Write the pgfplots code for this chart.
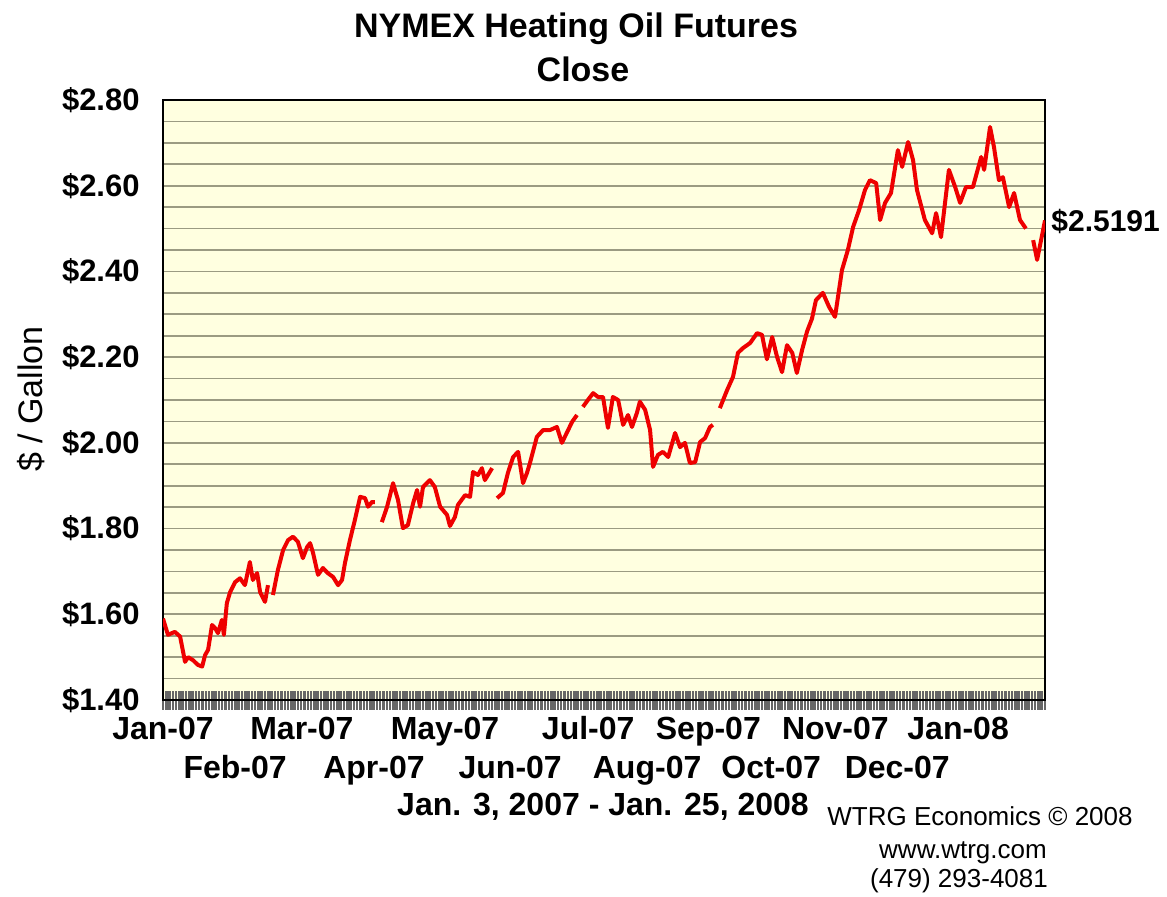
\documentclass[border=0pt]{standalone}
\usepackage{fontspec}
\setmainfont{Liberation Sans}
\usepackage{pgfplots}
\usepackage{pgfplotstable}
\pgfplotsset{compat=1.18}
\definecolor{bgyellow}{RGB}{255,255,224}
\definecolor{gridc}{RGB}{155,155,130}
\definecolor{linered}{RGB}{238,0,0}
\pgfplotstableread{
idx close
0 1.590
1.5 1.552
3.6 1.559
5.2 1.548
6.7 1.489
7.6 1.500
9.1 1.493
10.6 1.482
11.9 1.478
12.8 1.505
13.7 1.517
14.9 1.575
15.8 1.568
16.7 1.556
17.9 1.587
18.5 1.552
19.4 1.626
20.4 1.652
21.9 1.675
23.4 1.684
24.9 1.668
26.4 1.722
27.3 1.680
28.6 1.696
29.5 1.652
31.0 1.629
31.9 1.668
32.6 nan
33.4 1.645
34.9 1.703
36.5 1.750
38.0 1.773
39.5 1.781
41.0 1.769
42.5 1.731
43.8 1.757
44.7 1.766
45.6 1.743
47.1 1.692
48.6 1.708
50.1 1.696
51.7 1.687
53.2 1.668
54.4 1.680
55.3 1.720
56.8 1.773
58.3 1.820
59.9 1.874
61.4 1.871
62.3 1.851
63.5 1.862
64.4 1.862
65.5 nan
66.5 1.815
68.1 1.851
69.9 1.906
71.4 1.867
72.9 1.801
74.4 1.808
76.0 1.859
77.2 1.890
78.1 1.851
79.0 1.897
81.1 1.913
82.6 1.897
84.2 1.851
86.3 1.832
87.2 1.806
88.7 1.827
89.6 1.855
91.8 1.878
93.3 1.874
94.2 1.932
95.7 1.925
96.9 1.941
97.8 1.913
100.0 1.941
100.8 nan
101.5 1.871
103.3 1.883
104.8 1.930
106.4 1.967
107.9 1.979
109.4 1.906
110.6 1.930
111.5 1.953
113.6 2.014
115.5 2.030
117.6 2.030
119.7 2.037
121.2 2.000
122.8 2.025
124.3 2.049
125.8 2.065
126.7 nan
127.6 2.084
129.1 2.100
130.7 2.116
132.2 2.107
133.7 2.107
135.2 2.035
136.7 2.107
138.3 2.100
139.8 2.042
141.3 2.065
142.5 2.037
144.0 2.070
144.9 2.096
146.5 2.077
148.0 2.030
148.9 1.944
150.4 1.972
151.9 1.979
153.5 1.967
155.6 2.023
157.1 1.990
158.6 2.000
160.1 1.953
161.7 1.955
163.2 2.002
164.7 2.011
166.2 2.037
167.1 2.042
168.2 nan
169.2 2.081
171.4 2.123
173.2 2.154
174.7 2.210
176.2 2.221
178.4 2.233
180.5 2.256
182.0 2.252
183.5 2.195
185.1 2.247
186.6 2.200
188.1 2.165
189.6 2.228
191.2 2.210
192.6 2.163
194.2 2.217
195.7 2.260
197.2 2.290
198.4 2.333
200.5 2.350
202.4 2.317
204.2 2.294
206.3 2.403
208.1 2.450
209.7 2.504
211.5 2.543
213.3 2.590
214.8 2.613
216.7 2.606
217.9 2.520
219.4 2.560
221.2 2.583
223.3 2.683
224.6 2.644
226.4 2.702
227.9 2.660
229.1 2.590
231.5 2.520
233.7 2.489
234.9 2.536
236.4 2.480
238.8 2.637
240.7 2.597
242.2 2.560
244.0 2.597
246.1 2.597
248.6 2.667
249.5 2.637
251.3 2.737
252.5 2.690
254.0 2.613
255.2 2.620
257.1 2.550
258.6 2.583
260.4 2.520
262.2 2.500
263.3 nan
264.4 2.473
265.6 2.427
268.0 2.519
}\closetable
\begin{document}
\begin{tikzpicture}
\useasboundingbox (0,0) rectangle (583.5pt,448pt);
\begin{axis}[
  at={(81.5pt,98pt)}, anchor=south west,
  scale only axis, width=441pt, height=300pt,
  xmin=0, xmax=268, ymin=1.4, ymax=2.8,
  axis background/.style={fill=bgyellow},
  axis line style={black, line width=1.1pt},
  unbounded coords=jump,
  ytick={1.4,1.6,1.8,2.0,2.2,2.4,2.6,2.8},
  yticklabels={\$1.40,\$1.60,\$1.80,\$2.00,\$2.20,\$2.40,\$2.60,\$2.80},
  minor ytick={1.45,1.5,1.55,1.65,1.7,1.75,1.85,1.9,1.95,2.05,2.1,2.15,2.25,2.3,2.35,2.45,2.5,2.55,2.65,2.7,2.75},
  ymajorgrids, yminorgrids,
  major grid style={gridc, line width=0.9pt},
  minor grid style={gridc, line width=0.9pt},
  ytick style={draw=none},
  yticklabel style={font=\fontsize{15.5}{18}\selectfont\bfseries, anchor=east, inner sep=0pt, xshift=-11.5pt},
  xtick={0,21.9,42.2,64.1,85.7,105.5,129.2,147.1,165.7,184.8,204.3,223.1,241.6},
  xticklabels={{\strut Jan-07},{\strut\\\strut Feb-07},{\strut Mar-07},{\strut\\\strut Apr-07},{\strut May-07},{\strut\\\strut Jun-07},{\strut Jul-07},{\strut\\\strut Aug-07},{\strut Sep-07},{\strut\\\strut Oct-07},{\strut Nov-07},{\strut\\\strut Dec-07},{\strut Jan-08}},
  xticklabel style={font=\fontsize{16}{19.5}\selectfont\bfseries, align=center, anchor=north, inner sep=0pt, yshift=-6pt},
  minor xtick={0,1,...,268},
  tick pos=left,
  major tick length=0pt,
  minor tick length=9.5pt,
  tick align=center,
  xtick style={black!60, line width=1.25pt},
]
\addplot[linered, line width=2pt, line join=round] table[x=idx, y=close] {\closetable};
\end{axis}
\node[font=\fontsize{17}{20}\selectfont\bfseries, anchor=base] at (288pt,429pt) {NYMEX Heating Oil Futures};
\node[font=\fontsize{17}{20}\selectfont\bfseries, anchor=base] at (291.5pt,407pt) {Close};
\node[font=\fontsize{17}{20}\selectfont, rotate=90, anchor=base] at (21pt,248.5pt) {\$ / Gallon};
\node[font=\fontsize{15}{18}\selectfont\bfseries, anchor=base west, inner sep=0pt] at (525.5pt,332pt) {\$2.5191};
\node[font=\fontsize{16}{19}\selectfont\bfseries, anchor=base] at (301.5pt,40.5pt) {Jan. 3, 2007 - Jan. 25, 2008};
\node[font=\fontsize{13}{15}\selectfont, anchor=base] at (490pt,35.5pt) {WTRG Economics © 2008};
\node[font=\fontsize{13}{15}\selectfont, anchor=base] at (481.5pt,19pt) {www.wtrg.com};
\node[font=\fontsize{13}{15}\selectfont, anchor=base] at (479.5pt,4.5pt) {(479) 293-4081};
\end{tikzpicture}
\end{document}
